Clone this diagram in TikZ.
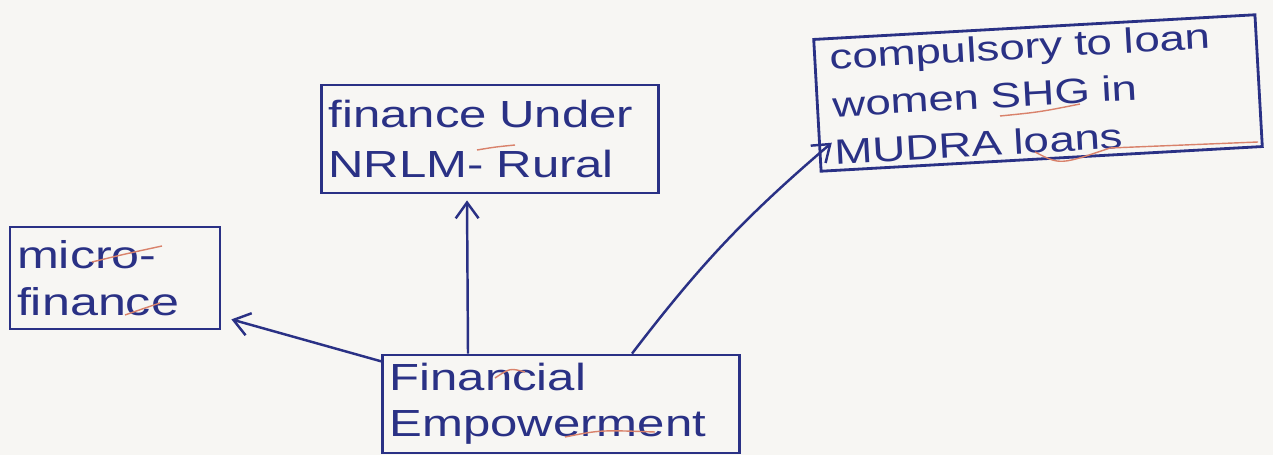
\documentclass[tikz,border=0pt]{standalone}
\usepackage{fontspec}
\setmainfont{Liberation Sans}
\newfontfamily\hand[FakeStretch=1.3]{Liberation Sans}
\usetikzlibrary{arrows.meta,calc}
\definecolor{ink}{HTML}{2A3185}
\definecolor{paper}{HTML}{F7F6F3}
\definecolor{redink}{HTML}{D9826B}
\tikzset{
  box/.style={draw=ink, line width=1.6pt, text=ink, align=left, inner xsep=0.14cm, inner ysep=0pt},
  arr/.style={draw=ink, line width=1.4pt, -{Straight Barb[length=9pt,width=13pt,line width=1.4pt]}},
  redmark/.style={draw=redink, line width=0.8pt}
}
\begin{document}
\begin{tikzpicture}[x=0.02cm,y=-0.02cm]
\fill[paper] (0,0) rectangle (1273,455);
\useasboundingbox (0,0) rectangle (1273,455);
% nodes
\node[box, text width=3.92cm, minimum height=2.04cm, font=\hand\fontsize{22}{27}\selectfont] (mf) at (115,278) {micro-\\finance};
\node[box, text width=6.46cm, minimum height=2.16cm, font=\hand\fontsize{21.5}{28}\selectfont] (nr) at (490,139) {finance Under\\NRLM- Rural};
\node[box, inner xsep=0.3cm, text width=8.24cm, minimum height=2.64cm, rotate=3.2, font=\hand\fontsize{20}{27}\selectfont] (cp) at (1038,93) {compulsory to loan\\women SHG in\\MUDRA loans};
\node[box, text width=6.86cm, minimum height=1.96cm, font=\hand\fontsize{21.5}{26}\selectfont] (fe) at (561,404) {Financial\\Empowerment};
% connectors
\draw[arr] ($(fe.north west)+(1,8)$) -- ($(mf.south east)+(10,-11)$);
\draw[arr] ($(fe.north)+(-93,0)$) -- ($(nr.south)+(-23,6)$);
\draw[arr] ($(fe.north)+(71,0)$) to[bend left=6] ($(cp.south west)+(12,-30)$);
% red pen marks
\draw[redmark] (92,262) .. controls (125,254) .. (162,246);
\draw[redmark] (125,315) .. controls (145,308) .. (160,303);
\draw[redmark] (477,150) .. controls (495,147) .. (515,145);
\draw[redmark] (1000,116) .. controls (1040,112) .. (1080,104);
\draw[redmark] (1035,152) .. controls (1060,165) .. (1110,148) -- (1258,142);
\draw[redmark] (495,378) .. controls (510,368) .. (525,372);
\draw[redmark] (565,437) .. controls (600,430) .. (655,432);
\end{tikzpicture}
\end{document}
